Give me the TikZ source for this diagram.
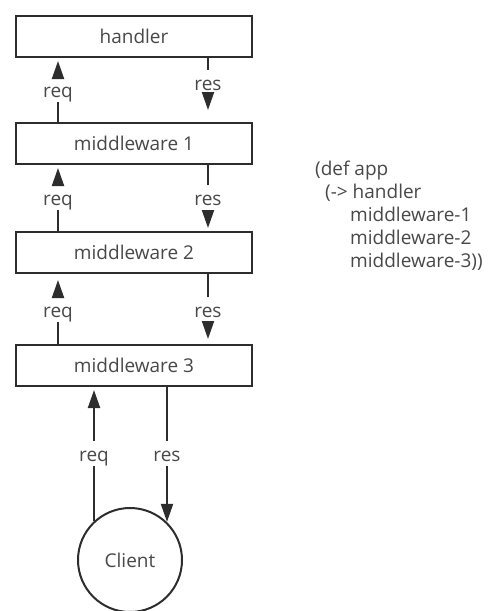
\documentclass[tikz,border=0pt]{standalone}
\usepackage{fontspec}
\setmainfont{Open Sans}
\usepackage{tikz}
\usetikzlibrary{shapes,arrows,arrows.meta,positioning}
\definecolor{edgegray}{RGB}{45, 45, 45}
\definecolor{textgray}{RGB}{72, 72, 72}
\tikzstyle{block} = [rectangle, draw=edgegray, line width=2pt, fill=white, text=textgray, text centered, font=\fontsize{19}{23}\selectfont, minimum width=236pt, minimum height=41pt, inner sep=0pt]
\tikzstyle{client} = [circle, draw=edgegray, line width=2pt, fill=white, text=textgray, text centered, font=\fontsize{19}{23}\selectfont, minimum size=104pt, inner sep=0pt]
\tikzstyle{lbl} = [text=textgray, font=\fontsize{19}{23}\selectfont, anchor=base, inner xsep=2pt, inner ysep=0pt, text height=20pt, text depth=5pt]
\tikzstyle{code} = [text=textgray, font=\fontsize{19}{23}\selectfont, align=left, anchor=north west, inner sep=0pt]
\tikzstyle{tline} = [draw=edgegray, line width=2pt]
\tikzstyle{tedge}  = [draw=edgegray, line width=2pt, -{Triangle[length=18pt,width=12pt]}, shorten >=3pt]

\begin{document}
\begin{tikzpicture}[x=1pt, y=-1pt]
\useasboundingbox (0,0) rectangle (500,611);

% stack =============================

% handler and middlewares
\node[block] (handler) at (134,36.5) {handler};
\node[block, below=64pt of handler] (mw1) {middleware 1};
\node[block, below=66pt of mw1] (mw2) {middleware 2};
\node[block, below=70pt of mw2] (mw3) {middleware 3};

% client
\node[client, below=120pt of mw3, xshift=-4pt] (client) {Client};

% labels
\node[lbl] (req1) at (58,97) {req};
\node[lbl] (res1) at (208,90) {res};
\node[lbl] (req2) at (58,205) {req};
\node[lbl] (res2) at (208,205) {res};
\node[lbl] (req3) at (58,317) {req};
\node[lbl] (res3) at (208,317) {res};
\node[lbl] (req4) at (94,461) {req};
\node[lbl] (res4) at (167,461) {res};

% code
\node[code] (app) at (315,161) {(def app\\
\hspace*{10pt}(-> handler\\
\hspace*{35pt}middleware-1\\
\hspace*{35pt}middleware-2\\
\hspace*{35pt}middleware-3))};


% edges handler to middleware 1
\path[tline] (req1 |- mw1.north) -- (req1.south);
\path[tedge] (req1.north) -- (req1 |- handler.south);

\path[tline] (res1 |- handler.south) -- (res1.north);
\path[tedge, shorten >=12pt] (res1.south) -- (res1 |- mw1.north);


% edges middleware 1 to middleware 2
\path[tline] (req2 |- mw2.north) -- (req2.south);
\path[tedge] (req2.north) -- (req2 |- mw1.south);

\path[tline] (res2 |- mw1.south) -- (res2.north);
\path[tedge] (res2.south) -- (res2 |- mw2.north);


% edges middleware 2 to middleware 3
\path[tline] (req3 |- mw3.north) -- (req3.south);
\path[tedge, shorten >=6pt] (req3.north) -- (req3 |- mw2.south);

\path[tline] (res3 |- mw2.south) -- (res3.north);
\path[tedge, shorten >=5pt] (res3.south) -- (res3 |- mw3.north);


% edges client to middleware 3
\path[tline] (req4 |- client.133) -- (req4.south);
\path[tedge] (req4.north) -- (req4 |- mw3.south);

\path[tline] (res4 |- mw3.south) -- (res4.north);
\path[tedge, shorten >=0pt] (res4.south) -- (res4 |- client.46);

\end{tikzpicture}
\end{document}
